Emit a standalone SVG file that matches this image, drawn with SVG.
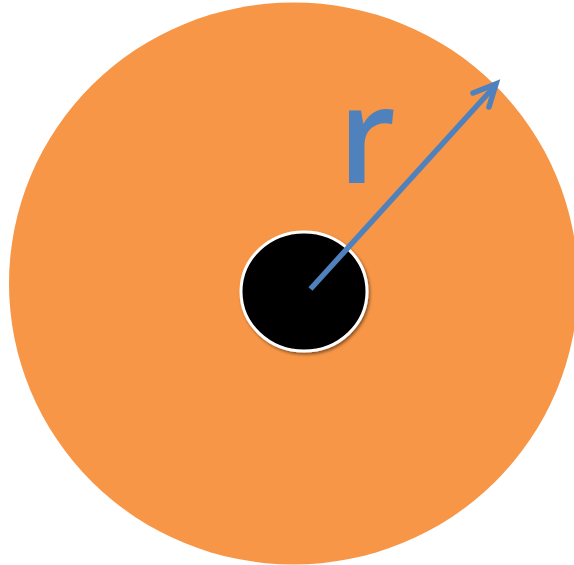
<svg xmlns="http://www.w3.org/2000/svg" width="574" height="565" viewBox="0 0 574 565">
  <style>
    .disc { fill: #F79646; }
    .core { fill: #000000; stroke: #FFFFFF; stroke-width: 3; }
    .radius { stroke: #4F81BD; stroke-width: 5.5; fill: none; }
    .label { font-family: "Open Sans", "Noto Sans", sans-serif; font-size: 134px; font-weight: 600; fill: #4F81BD; }
  </style>
  <defs>
    <filter id="shadow" x="-20%" y="-20%" width="140%" height="140%">
      <feDropShadow dx="1.5" dy="2" stdDeviation="1.5" flood-color="#000" flood-opacity="0.45"/>
    </filter>
  </defs>
  <rect width="574" height="565" fill="#FFFFFF"/>
  <g id="outer-disc">
    <ellipse class="disc" cx="293.5" cy="283.5" rx="284.5" ry="281"/>
  </g>
  <g id="inner-core">
    <ellipse class="core" cx="304" cy="291.5" rx="63" ry="59.5" filter="url(#shadow)"/>
  </g>
  <g id="connectors">
    <line class="radius" x1="310.5" y1="289" x2="494" y2="87" stroke-linecap="butt"/>
    <polyline class="radius" points="473,93 496,84 489,107" stroke-linecap="round" stroke-linejoin="miter"/>
  </g>
  <g id="radius-label">
    <text class="label" x="338" y="182.5">r</text>
  </g>
</svg>
